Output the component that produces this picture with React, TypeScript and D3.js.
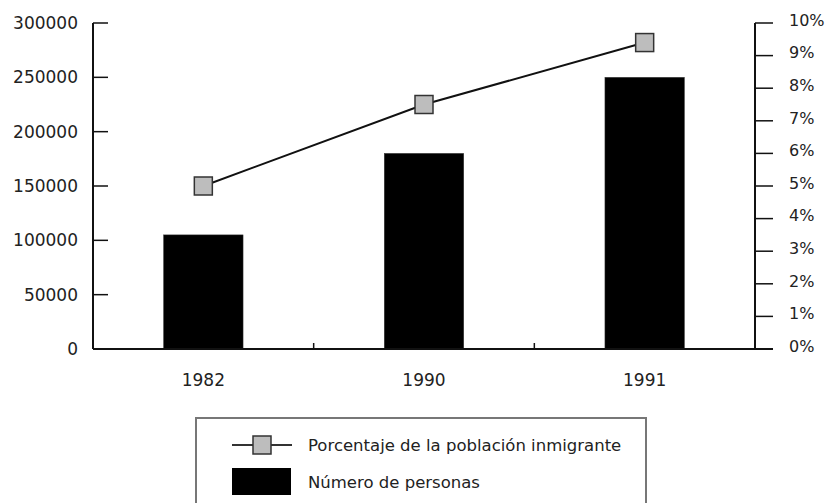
import React from "react";
import * as d3 from "d3";

const years = ["1982", "1990", "1991"];
const personas = [105000, 180000, 250000];
const porcentaje = [5.0, 7.5, 9.4];
const leftTicks = [0, 50000, 100000, 150000, 200000, 250000, 300000];
const rightTicks = [0, 1, 2, 3, 4, 5, 6, 7, 8, 9, 10];
const legendLabels = ["Porcentaje de la población inmigrante", "Número de personas"];

const W = 826;
const H = 503;
const M = { left: 93, right: 755, top: 23, bottom: 349 };
const FONT = "'DejaVu Sans', Arial, sans-serif";
const TXT = "#222";

export default function App() {
  const x = d3.scaleBand<string>().domain(years).range([M.left, M.right]).paddingInner(0).paddingOuter(0);
  const yL = d3.scaleLinear().domain([0, 300000]).range([M.bottom, M.top]);
  const yR = d3.scaleLinear().domain([0, 10]).range([M.bottom, M.top]);
  const bw = x.bandwidth() * 0.36;
  const cx = (d: string) => (x(d) as number) + x.bandwidth() / 2;
  const line = d3
    .line<number>()
    .x((_, i) => cx(years[i]))
    .y((d) => yR(d));
  const ms = 18;

  return (
    <svg width={W} height={H} style={{ position: "absolute", left: 0, top: 0, background: "#fff" }}>
      {/* bars */}
      {years.map((yr, i) => (
        <rect
          key={yr}
          x={cx(yr) - bw / 2}
          y={yL(personas[i])}
          width={bw}
          height={M.bottom - yL(personas[i])}
          fill="#000"
          stroke="#333"
          strokeWidth={0.5}
        />
      ))}
      {/* left axis */}
      <line x1={M.left} x2={M.left} y1={M.top} y2={M.bottom} stroke="#111" strokeWidth={2} />
      {leftTicks.map((t) => (
        <g key={t}>
          <line x1={M.left} x2={M.left + 15} y1={yL(t)} y2={yL(t)} stroke="#111" strokeWidth={1.5} />
          <text x={78} y={yL(t)} dy="0.36em" textAnchor="end" fontFamily={FONT} fontSize={17} fill={TXT}>
            {t}
          </text>
        </g>
      ))}
      {/* right axis */}
      <line x1={M.right} x2={M.right} y1={M.top} y2={M.bottom} stroke="#111" strokeWidth={2} />
      {rightTicks.map((t) => (
        <g key={t}>
          <line x1={M.right} x2={M.right + 18} y1={yR(t)} y2={yR(t)} stroke="#111" strokeWidth={1.5} />
          <text x={789} y={yR(t) - 3} dy="0.36em" textAnchor="start" fontFamily={FONT} fontSize={16} fill={TXT}>
            {t}%
          </text>
        </g>
      ))}
      {/* x axis */}
      <line x1={M.left} x2={M.right + 18} y1={M.bottom} y2={M.bottom} stroke="#111" strokeWidth={2} />
      {years.slice(1).map((yr) => (
        <line key={yr} x1={x(yr)} x2={x(yr)} y1={M.bottom} y2={M.bottom - 6} stroke="#111" strokeWidth={1.5} />
      ))}
      {years.map((yr) => (
        <text key={yr} x={cx(yr)} y={380} dy="0.36em" textAnchor="middle" fontFamily={FONT} fontSize={17} fill={TXT}>
          {yr}
        </text>
      ))}
      {/* line series */}
      <path d={line(porcentaje) || ""} fill="none" stroke="#111" strokeWidth={2} />
      {porcentaje.map((p, i) => (
        <rect
          key={i}
          x={cx(years[i]) - ms / 2}
          y={yR(p) - ms / 2}
          width={ms}
          height={ms}
          fill="#bdbdbd"
          stroke="#333"
          strokeWidth={1.5}
        />
      ))}
      {/* legend */}
      <rect x={196} y={418} width={450} height={100} fill="none" stroke="#777" strokeWidth={2} />
      <line x1={232} x2={292} y1={445} y2={445} stroke="#333" strokeWidth={2} />
      <rect x={262 - 9} y={445 - 9} width={18} height={18} fill="#bdbdbd" stroke="#333" strokeWidth={1.5} />
      <text x={308} y={445} dy="0.36em" fontFamily={FONT} fontSize={16.5} fill={TXT}>
        {legendLabels[0]}
      </text>
      <rect x={232} y={468} width={59} height={27} fill="#000" />
      <text x={308} y={482} dy="0.36em" fontFamily={FONT} fontSize={16.5} fill={TXT}>
        {legendLabels[1]}
      </text>
    </svg>
  );
}
